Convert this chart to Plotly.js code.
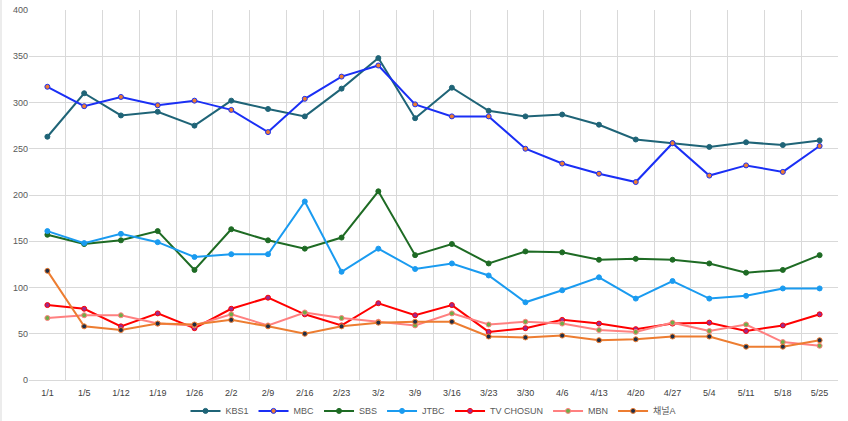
<!DOCTYPE html>
<html>
<head>
<meta charset="utf-8">
<script src="https://cdn.plot.ly/plotly-3.0.1.min.js"></script>
<style>
  html, body { margin: 0; padding: 0; background: #fff; }
  #plot { width: 848px; height: 421px; }
</style>
</head>
<body>
<div id="plot"></div>
<script>
// 주간 시청률 데이터
const dates = ["1/1","1/5","1/12","1/19","1/26","2/2","2/9","2/16","2/23","3/2","3/9",
               "3/16","3/23","3/30","4/6","4/13","4/20","4/27","5/4","5/11","5/18","5/25"];

const kbs1 = [263,310,286,290,275,302,293,285,315,348,283,316,291,285,287,276,260,256,252,257,254,259];
const mbc  = [317,296,306,297,302,292,268,304,328,340,298,285,285,250,234,223,214,256,221,232,225,253];
const sbs  = [157,147,151,161,119,163,151,142,154,204,135,147,126,139,138,130,131,130,126,116,119,135];
const jtbc = [161,148,158,149,133,136,136,193,117,142,120,126,113,84,97,111,88,107,88,91,99,99];
const tvchosun = [81,77,58,72,56,77,89,71,59,83,70,81,52,56,65,61,55,61,62,53,59,71];
const mbn  = [67,70,70,61,59,71,59,73,67,63,59,72,60,63,61,54,52,62,53,60,41,37];
const channelA = [118,58,54,61,60,65,58,50,58,62,63,63,47,46,48,43,44,47,47,36,36,43];

let line = (name, y, color, markerColor, markerLine) => ({
    x: dates,
    y: y,
    name: name,
    type: 'scatter',
    mode: 'lines+markers',
    line: {color: color, width: 2},
    marker: {size: 5, color: markerColor, line: {color: markerLine, width: 1}}
});

const traces = [
    line("KBS1", kbs1, "#1f6477", "#1f6477", "#1f6477"),
    line("MBC", mbc, "#1a2ff5", "#ed7d31", "#1a2ff5"),
    line("SBS", sbs, "#1e6b24", "#1e6b24", "#1e6b24"),
    line("JTBC", jtbc, "#1a9bf0", "#1a9bf0", "#1a9bf0"),
    line("TV CHOSUN", tvchosun, "#ff0000", "#9c2a8c", "#ff0000"),
    line("MBN", mbn, "#ff8080", "#70ad47", "#ff8080"),
    line("채널A", channelA, "#ed7d31", "#1f2d45", "#ed7d31")
];

const layout = {
    width: 848,
    height: 421,
    margin: {l: 29, r: 10, t: 10, b: 41, autoexpand: false},
    paper_bgcolor: '#fff',
    plot_bgcolor: '#fff',
    font: {family: 'Liberation Sans, "Noto Sans CJK KR", sans-serif', size: 9, color: '#595959'},
    showlegend: true,
    legend: {
        orientation: 'h',
        yref: 'container',
        x: 0.5, xanchor: 'center',
        y: 0.024, yanchor: 'middle',
        bgcolor: 'rgba(0,0,0,0)',
        font: {size: 9, color: '#595959'},
        tracegroupgap: 0
    },
    xaxis: {
        type: 'category',
        tickson: 'boundaries',
        range: [-0.5, 21.5],
        showgrid: true,
        gridcolor: '#d9d9d9',
        gridwidth: 1,
        ticks: '',
        ticklabelstandoff: 6,
        zeroline: false,
        showline: false,
        tickfont: {size: 9, color: '#404040'},
        fixedrange: true
    },
    yaxis: {
        range: [0, 400],
        dtick: 50,
        showgrid: true,
        gridcolor: '#d9d9d9',
        gridwidth: 1,
        zeroline: true,
        zerolinecolor: '#d9d9d9',
        zerolinewidth: 1,
        showline: false,
        ticks: '',
        tickfont: {size: 9, color: '#595959'},
        fixedrange: true
    },
    shapes: [{
        type: 'line', xref: 'paper', yref: 'paper',
        x0: -0.0346, x1: -0.0346, y0: -0.111, y1: 1.027,
        line: {color: '#d9d9d9', width: 1}
    }]
};

Plotly.newPlot('plot', traces, layout, {displayModeBar: false, staticPlot: true});
</script>
</body>
</html>
